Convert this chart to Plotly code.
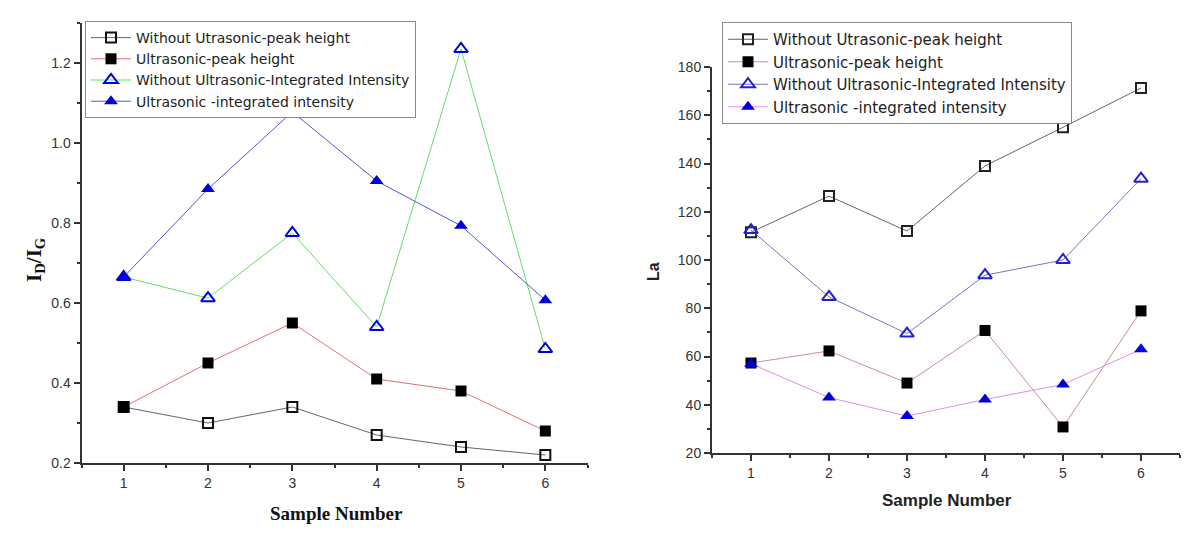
import plotly.graph_objects as go

samples = [1, 2, 3, 4, 5, 6]
series_names = [
    "Without Utrasonic-peak height",
    "Ultrasonic-peak height",
    "Without Ultrasonic-Integrated Intensity",
    "Ultrasonic -integrated intensity",
]

# Left panel: ID/IG
idig_without_peak = [0.34, 0.30, 0.34, 0.27, 0.24, 0.22]
idig_ultra_peak = [0.34, 0.45, 0.55, 0.41, 0.38, 0.28]
idig_without_int = [0.665, 0.612, 0.775, 0.54, 1.235, 0.485]
idig_ultra_int = [0.665, 0.885, 1.078, 0.905, 0.793, 0.607]

# Right panel: La
la_without_peak = [111.5, 126.5, 112, 139, 155, 171.3]
la_ultra_peak = [57.3, 62.3, 49, 70.8, 30.8, 78.9]
la_without_int = [112.4, 84.7, 69.5, 93.7, 100, 133.7]
la_ultra_int = [57, 43, 35.3, 42.2, 48.4, 63]

W, H = 1200, 542
OFF = 8  # page offset of the figure div (body margin)

def px(x):
    return (x - OFF) / W
def py(y):
    return 1 - (y - OFF) / H
def xd(a, b):
    return [px(a), px(b)]
def yd(top, bot):
    return [py(bot), py(top)]

fig = go.Figure()

left_styles = [
    dict(line=dict(color="#666666", width=1), marker=dict(symbol="square-open", color="#111111", size=10, line=dict(width=2))),
    dict(line=dict(color="#e07070", width=1), marker=dict(symbol="square", color="#000000", size=11)),
    dict(line=dict(color="#66dd66", width=1), marker=dict(symbol="triangle-up-open", color="#0000dd", size=12, line=dict(width=2))),
    dict(line=dict(color="#5555cc", width=1), marker=dict(symbol="triangle-up", color="#0000dd", size=12)),
]
right_styles = [
    dict(line=dict(color="#666666", width=1), marker=dict(symbol="square-open", color="#222222", size=10, line=dict(width=2))),
    dict(line=dict(color="#c89090", width=1), marker=dict(symbol="square", color="#000000", size=11)),
    dict(line=dict(color="#7777bb", width=1), marker=dict(symbol="triangle-up-open", color="#2222cc", size=12, line=dict(width=2))),
    dict(line=dict(color="#e090e0", width=1), marker=dict(symbol="triangle-up", color="#0000dd", size=12)),
]

for name, vals, st in zip(series_names, [idig_without_peak, idig_ultra_peak, idig_without_int, idig_ultra_int], left_styles):
    fig.add_trace(go.Scatter(x=samples, y=vals, name=name, mode="lines+markers",
                             xaxis="x", yaxis="y", legend="legend", **st))
for name, vals, st in zip(series_names, [la_without_peak, la_ultra_peak, la_without_int, la_ultra_int], right_styles):
    fig.add_trace(go.Scatter(x=samples, y=vals, name=name, mode="lines+markers",
                             xaxis="x2", yaxis="y2", legend="legend2", **st))

tickfont = dict(family="Liberation Sans, Arial", size=14, color="#333333")
common_x = dict(range=[0.5, 6.5], tick0=1, dtick=1, ticks="outside", ticklen=6, tickwidth=1.5,
                showline=True, linecolor="#333333", linewidth=2, showgrid=False, zeroline=False,
                tickfont=tickfont, tickcolor="#333333", automargin=False,
                minor=dict(ticks="outside", ticklen=3, dtick=0.5, tick0=0.5, tickcolor="#333333", showgrid=False))

fig.update_layout(
    width=W, height=H,
    margin=dict(l=0, r=0, t=0, b=0, pad=0, autoexpand=False),
    paper_bgcolor="white", plot_bgcolor="white",
    xaxis=dict(domain=xd(81.5, 587.5), anchor="y", **common_x),
    yaxis=dict(domain=yd(23, 463), anchor="x", range=[0.2, 1.3], tick0=0.2, dtick=0.2,
               ticks="outside", ticklen=6, tickwidth=1.5, tickcolor="#333333",
               showline=True, linecolor="#333333", linewidth=2, showgrid=False, zeroline=False,
               tickfont=tickfont, tickformat=".1f", automargin=False,
               minor=dict(ticks="outside", ticklen=3, dtick=0.1, tick0=0.1, tickcolor="#333333", showgrid=False)),
    xaxis2=dict(domain=xd(712, 1180), anchor="y2", **common_x),
    yaxis2=dict(domain=yd(67, 453), anchor="x2", range=[20, 180], tick0=20, dtick=20,
                ticks="outside", ticklen=6, tickwidth=1.5, tickcolor="#333333",
                showline=True, linecolor="#333333", linewidth=2, showgrid=False, zeroline=False,
                tickfont=tickfont, automargin=False,
                minor=dict(ticks="outside", ticklen=3, dtick=10, tick0=10, tickcolor="#333333", showgrid=False)),
    legend=dict(x=px(85), y=py(21), xanchor="left", yanchor="top",
                bgcolor="white", bordercolor="#888888", borderwidth=1,
                font=dict(family="DejaVu Sans", size=14, color="#222222"),
                tracegroupgap=0, itemwidth=40),
    legend2=dict(x=px(722), y=py(22), xanchor="left", yanchor="top",
                 bgcolor="white", bordercolor="#888888", borderwidth=1,
                 font=dict(family="DejaVu Sans", size=15, color="#222222"),
                 tracegroupgap=0, itemwidth=40),
    showlegend=True,
)

annotations = [
    dict(text="<b>I<sub>D</sub>/I<sub>G</sub></b>", x=px(35), y=py(260), xref="paper", yref="paper",
         xanchor="center", yanchor="middle",
         textangle=-90, showarrow=False, font=dict(family="Liberation Serif, Times New Roman", size=21, color="#111111")),
    dict(text="<b>Sample Number</b>", x=px(336), y=py(513), xref="paper", yref="paper",
         xanchor="center", yanchor="middle",
         showarrow=False, font=dict(family="Liberation Serif, Times New Roman", size=19, color="#111111")),
    dict(text="<b>La</b>", x=px(653), y=py(272), xref="paper", yref="paper",
         xanchor="center", yanchor="middle",
         textangle=-90, showarrow=False, font=dict(family="Liberation Sans, Arial", size=16, color="#222222")),
    dict(text="<b>Sample Number</b>", x=px(947), y=py(500), xref="paper", yref="paper",
         xanchor="center", yanchor="middle",
         showarrow=False, font=dict(family="Liberation Sans, Arial", size=17, color="#222222")),
]
fig.update_layout(annotations=annotations)

fig.write_html("out.html")
